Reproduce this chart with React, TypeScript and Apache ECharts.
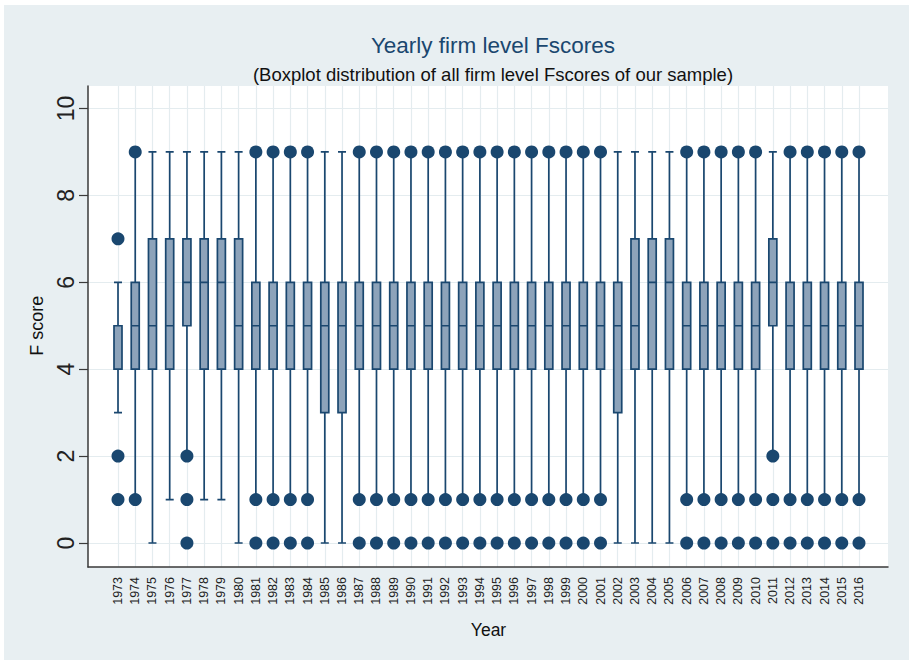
import React, { useEffect, useRef } from "react";
import * as echarts from "echarts";

const years = [
  "1973", "1974", "1975", "1976", "1977", "1978", "1979", "1980", "1981", "1982",
  "1983", "1984", "1985", "1986", "1987", "1988", "1989", "1990", "1991", "1992",
  "1993", "1994", "1995", "1996", "1997", "1998", "1999", "2000", "2001", "2002",
  "2003", "2004", "2005", "2006", "2007", "2008", "2009", "2010", "2011", "2012",
  "2013", "2014", "2015", "2016",
];

// lower adjacent value (whisker end)
const lowerWhisker = [
  3, 1, 0, 1, 2, 1, 1, 0, 1, 1,
  1, 1, 0, 0, 1, 1, 1, 1, 1, 1,
  1, 1, 1, 1, 1, 1, 1, 1, 1, 0,
  0, 0, 0, 1, 1, 1, 1, 1, 2, 1,
  1, 1, 1, 1,
];
const q1 = [
  4, 4, 4, 4, 5, 4, 4, 4, 4, 4,
  4, 4, 3, 3, 4, 4, 4, 4, 4, 4,
  4, 4, 4, 4, 4, 4, 4, 4, 4, 3,
  4, 4, 4, 4, 4, 4, 4, 4, 5, 4,
  4, 4, 4, 4,
];
const median = [
  5, 5, 5, 5, 6, 6, 6, 5, 5, 5,
  5, 5, 5, 5, 5, 5, 5, 5, 5, 5,
  5, 5, 5, 5, 5, 5, 5, 5, 5, 5,
  5, 6, 6, 5, 5, 5, 5, 5, 6, 5,
  5, 5, 5, 5,
];
const q3 = [
  5, 6, 7, 7, 7, 7, 7, 7, 6, 6,
  6, 6, 6, 6, 6, 6, 6, 6, 6, 6,
  6, 6, 6, 6, 6, 6, 6, 6, 6, 6,
  7, 7, 7, 6, 6, 6, 6, 6, 7, 6,
  6, 6, 6, 6,
];
// upper adjacent value (whisker end)
const upperWhisker = [
  6, 9, 9, 9, 9, 9, 9, 9, 9, 9,
  9, 9, 9, 9, 9, 9, 9, 9, 9, 9,
  9, 9, 9, 9, 9, 9, 9, 9, 9, 9,
  9, 9, 9, 9, 9, 9, 9, 9, 9, 9,
  9, 9, 9, 9,
];

// outside values [year, F score]
const outliers: [string, number][] = [
  ["1973", 7], ["1973", 2], ["1973", 1],
  ["1974", 9], ["1974", 1],
  ["1977", 2], ["1977", 1], ["1977", 0],
  ["1981", 9], ["1981", 1], ["1981", 0],
  ["1982", 9], ["1982", 1], ["1982", 0],
  ["1983", 9], ["1983", 1], ["1983", 0],
  ["1984", 9], ["1984", 1], ["1984", 0],
  ["1987", 9], ["1987", 1], ["1987", 0],
  ["1988", 9], ["1988", 1], ["1988", 0],
  ["1989", 9], ["1989", 1], ["1989", 0],
  ["1990", 9], ["1990", 1], ["1990", 0],
  ["1991", 9], ["1991", 1], ["1991", 0],
  ["1992", 9], ["1992", 1], ["1992", 0],
  ["1993", 9], ["1993", 1], ["1993", 0],
  ["1994", 9], ["1994", 1], ["1994", 0],
  ["1995", 9], ["1995", 1], ["1995", 0],
  ["1996", 9], ["1996", 1], ["1996", 0],
  ["1997", 9], ["1997", 1], ["1997", 0],
  ["1998", 9], ["1998", 1], ["1998", 0],
  ["1999", 9], ["1999", 1], ["1999", 0],
  ["2000", 9], ["2000", 1], ["2000", 0],
  ["2001", 9], ["2001", 1], ["2001", 0],
  ["2006", 9], ["2006", 1], ["2006", 0],
  ["2007", 9], ["2007", 1], ["2007", 0],
  ["2008", 9], ["2008", 1], ["2008", 0],
  ["2009", 9], ["2009", 1], ["2009", 0],
  ["2010", 9], ["2010", 1], ["2010", 0],
  ["2011", 2], ["2011", 1], ["2011", 0],
  ["2012", 9], ["2012", 1], ["2012", 0],
  ["2013", 9], ["2013", 1], ["2013", 0],
  ["2014", 9], ["2014", 1], ["2014", 0],
  ["2015", 9], ["2015", 1], ["2015", 0],
  ["2016", 9], ["2016", 1], ["2016", 0],
];

const yTicks = { min: 0, max: 10, interval: 2 };

const NAVY = "#1a476f";
const FILL = "#8da3ba";
const GRID = "#e4ecef";
const AXIS = "#3a3a3a";
const BG = "#e8eff2";
const FONT = "'Liberation Sans', Arial, sans-serif";

export default function App() {
  const ref = useRef<HTMLDivElement>(null);

  useEffect(() => {
    if (!ref.current) return;
    const chart = echarts.init(ref.current, null, { renderer: "svg" });
    const boxData = years.map((_, i) => [
      lowerWhisker[i],
      q1[i],
      median[i],
      q3[i],
      upperWhisker[i],
    ]);
    chart.setOption({
      animation: false,
      backgroundColor: BG,
      textStyle: { fontFamily: FONT },
      title: [
        {
          text: "Yearly firm level Fscores",
          left: 488,
          top: 29,
          textAlign: "center",
          textStyle: { fontSize: 22.5, fontWeight: "normal", color: NAVY, fontFamily: FONT },
        },
        {
          text: "(Boxplot distribution of all firm level Fscores of our sample)",
          left: 488,
          top: 60,
          textAlign: "center",
          textStyle: { fontSize: 18.5, fontWeight: "normal", color: "#111", fontFamily: FONT },
        },
      ],
      graphic: [
        { type: "rect", x: 0, y: 0, shape: { width: 909, height: 5 }, style: { fill: "#fff" }, silent: true },
        { type: "rect", x: 0, y: 0, shape: { width: 4, height: 660 }, style: { fill: "#fff" }, silent: true },
      ],
      grid: [
        { left: 88, top: 86, right: 21, bottom: 93, show: true, backgroundColor: "#fff", borderWidth: 0 },
        { left: 88, top: 108.5, right: 21, bottom: 117 },
        { left: 118, top: 86, right: 50, bottom: 93 },
      ],
      xAxis: [
        {
          gridIndex: 0,
          type: "value",
          min: 0,
          max: 1,
          axisLine: { show: true, onZero: false, lineStyle: { color: AXIS, width: 1.5 } },
          axisTick: { show: false },
          axisLabel: { show: false },
          splitLine: { show: false },
        },
        { gridIndex: 1, type: "value", min: 0, max: 1, show: false },
        {
          gridIndex: 2,
          type: "category",
          data: years,
          boundaryGap: false,
          axisLine: { show: false },
          axisTick: { show: false },
          axisLabel: { rotate: 90, fontSize: 12.5, color: "#222", margin: 10, interval: 0 },
          splitLine: { show: true, interval: 0, lineStyle: { color: GRID, width: 1.2 } },
          name: "Year",
          nameLocation: "middle",
          nameGap: 54,
          nameTextStyle: { fontSize: 17.5, color: "#111" },
        },
      ],
      yAxis: [
        {
          gridIndex: 0,
          type: "value",
          min: 0,
          max: 1,
          axisLine: { show: true, onZero: false, lineStyle: { color: AXIS, width: 1.5 } },
          axisTick: { show: false },
          axisLabel: { show: false },
          splitLine: { show: false },
        },
        {
          gridIndex: 1,
          type: "value",
          min: yTicks.min,
          max: yTicks.max,
          interval: yTicks.interval,
          axisLine: { show: false },
          axisTick: { show: true, length: 9, lineStyle: { color: AXIS, width: 1.2 } },
          axisLabel: { rotate: 90, fontSize: 23, margin: 11, color: "#222" },
          splitLine: { show: true, lineStyle: { color: GRID, width: 1.2 } },
          name: "F score",
          nameLocation: "middle",
          nameRotate: 90,
          nameGap: 39,
          nameTextStyle: { fontSize: 18, color: "#111" },
        },
        { gridIndex: 2, type: "value", min: -0.552, max: 10.518, show: false },
      ],
      series: [
        {
          type: "boxplot",
          xAxisIndex: 2,
          yAxisIndex: 2,
          boxWidth: [8, 8],
          data: boxData,
          itemStyle: { color: FILL, borderColor: NAVY, borderWidth: 1.7 },
          emphasis: { disabled: true },
          z: 3,
        },
        {
          type: "scatter",
          xAxisIndex: 2,
          yAxisIndex: 2,
          symbol: "circle",
          symbolSize: 13,
          data: outliers,
          itemStyle: { color: NAVY, opacity: 1 },
          emphasis: { disabled: true },
          z: 4,
        },
      ],
    });
    return () => chart.dispose();
  }, []);

  return (
    <div
      ref={ref}
      style={{ position: "fixed", left: 0, top: 0, width: 909, height: 660 }}
    />
  );
}
